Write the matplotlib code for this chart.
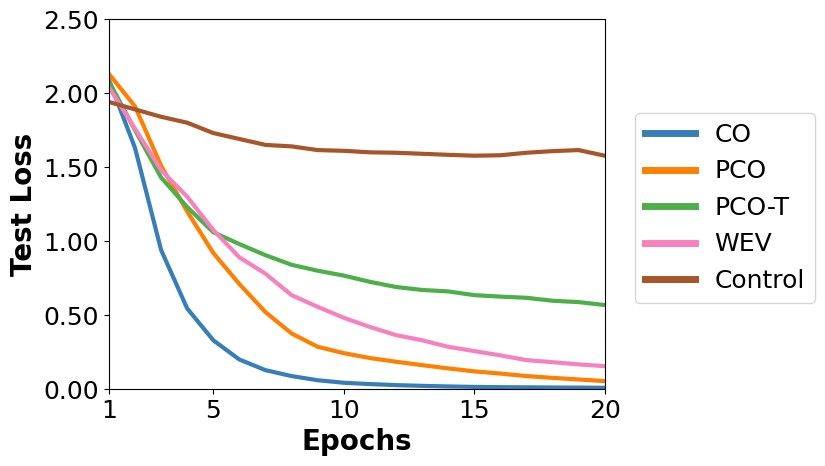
import matplotlib.pyplot as plt
import numpy as np

epochs = list(range(1, 21))

co = [2.09, 1.63, 0.94, 0.545, 0.33, 0.20, 0.128, 0.088, 0.06, 0.043,
      0.034, 0.027, 0.022, 0.018, 0.015, 0.013, 0.012, 0.011, 0.010, 0.009]
pco = [2.13, 1.91, 1.51, 1.20, 0.92, 0.71, 0.52, 0.376, 0.286, 0.243,
       0.21, 0.185, 0.162, 0.14, 0.12, 0.105, 0.088, 0.076, 0.065, 0.054]
pco_t = [2.08, 1.75, 1.43, 1.23, 1.06, 0.98, 0.905, 0.84, 0.80, 0.767,
         0.725, 0.69, 0.67, 0.66, 0.635, 0.625, 0.617, 0.597, 0.588, 0.568]
wev = [2.04, 1.76, 1.48, 1.30, 1.075, 0.89, 0.78, 0.635, 0.556, 0.482,
       0.42, 0.365, 0.33, 0.286, 0.257, 0.228, 0.196, 0.182, 0.167, 0.155]
control = [1.94, 1.89, 1.84, 1.80, 1.73, 1.69, 1.65, 1.64, 1.615, 1.61,
           1.60, 1.597, 1.59, 1.583, 1.577, 1.58, 1.597, 1.608, 1.615, 1.577]

series = [("CO", co, "#377eb8"),
          ("PCO", pco, "#ff7f00"),
          ("PCO-T", pco_t, "#4daf4a"),
          ("WEV", wev, "#f781bf"),
          ("Control", control, "#a65628")]

fig = plt.figure(figsize=(8.25, 4.66), dpi=100)
ax = fig.add_axes([0.132, 0.165, 0.601, 0.794])

for name, vals, col in series:
    ax.plot(epochs, vals, '-', color=col, linewidth=3, label=name)

ax.set_xlim(1, 20)
ax.set_ylim(0, 2.5)
ax.set_xticks([1, 5, 10, 15, 20])
ax.set_yticks(np.arange(0, 2.51, 0.5))
ax.set_yticklabels(["%.2f" % v for v in np.arange(0, 2.51, 0.5)])
ax.tick_params(labelsize=18)
ax.set_xlabel("Epochs", fontsize=20, fontweight='bold', labelpad=4)
ax.set_ylabel("Test Loss", fontsize=20, fontweight='bold')

leg = ax.legend(loc='center left', bbox_to_anchor=(1.035, 0.49), fontsize=18)
for line in leg.get_lines():
    line.set_linewidth(5)

fig.savefig("out.png", dpi=100)
